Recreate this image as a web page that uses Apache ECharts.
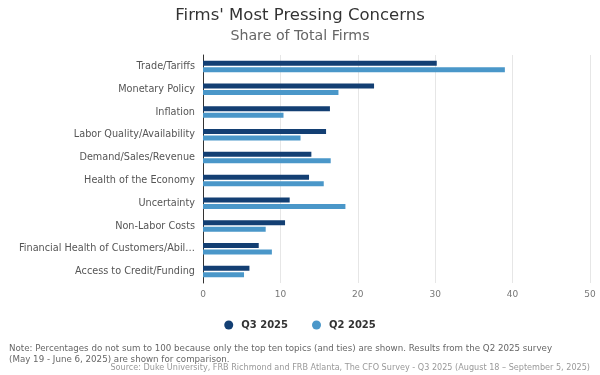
<!DOCTYPE html>
<html><head><meta charset="utf-8">
<script src="https://cdn.jsdelivr.net/npm/echarts@6/dist/echarts.min.js"></script>
<style>html,body{margin:0;padding:0;background:#fff}#c{width:600px;height:375px}</style>
</head><body><div id="c"></div>
<script>
var categories = ["Trade/Tariffs","Monetary Policy","Inflation","Labor Quality/Availability","Demand/Sales/Revenue","Health of the Economy","Uncertainty","Non-Labor Costs","Financial Health of Customers/Abil\u2026","Access to Credit/Funding"];
var q3Values = [30.2, 22.1, 16.4, 15.9, 14.0, 13.7, 11.2, 10.6, 7.2, 6.0];
var q2Values = [39.0, 17.5, 10.4, 12.6, 16.5, 15.6, 18.4, 8.1, 8.9, 5.3];
var xTicks = [0, 10, 20, 30, 40, 50];
var seriesNames = ["Q3 2025", "Q2 2025"];

var FONT = 'DejaVu Sans, Liberation Sans, Arial';
var chart = echarts.init(document.getElementById('c'), null, {renderer:'canvas'});
chart.setOption({
  animation:false,
  backgroundColor:'#fff',
  title:[
    {text:"Firms' Most Pressing Concerns", left:'center', top:2, textStyle:{fontFamily:FONT, fontSize:16.5, fontWeight:'normal', color:'#333'}},
    {text:"Share of Total Firms", left:'center', top:24, textStyle:{fontFamily:FONT, fontSize:14.2, fontWeight:'normal', color:'#666'}},
    {text:"Note: Percentages do not sum to 100 because only the top ten topics (and ties) are shown. Results from the Q2 2025 survey\n(May 19 - June 6, 2025) are shown for comparison.", left:4, top:338, textStyle:{fontFamily:FONT, fontSize:8.7, fontWeight:'normal', color:'#666', lineHeight:11}},
    {text:"Source: Duke University, FRB Richmond and FRB Atlanta, The CFO Survey - Q3 2025 (August 18 \u2013 September 5, 2025)", right:5, top:359, textStyle:{fontFamily:FONT, fontSize:8.1, fontWeight:'normal', color:'#999'}}
  ],
  legend:{
    data:seriesNames, top:315, left:'center', icon:'circle', itemWidth:9, itemHeight:9, itemGap:24,
    textStyle:{fontFamily:FONT, fontSize:10, fontWeight:'bold', color:'#333', padding:[0,0,0,3]}
  },
  grid:{left:203, right:10, top:55, height:228, containLabel:false},
  xAxis:{
    type:'value', min:xTicks[0], max:xTicks[xTicks.length-1], interval:10,
    axisLine:{show:false}, axisTick:{show:false},
    splitLine:{lineStyle:{color:'#e6e6e6'}},
    axisLabel:{color:'#777', fontSize:9, fontFamily:FONT, margin:7}
  },
  yAxis:{
    type:'category', data:categories, inverse:true,
    axisLine:{show:true, lineStyle:{color:'#333'}}, axisTick:{show:false},
    axisLabel:{color:'#555', fontSize:9.7, fontFamily:FONT, margin:8}
  },
  series:[
    {name:seriesNames[0], type:'bar', data:q3Values, barWidth:5, barGap:'30%', itemStyle:{color:'#133f73'}},
    {name:seriesNames[1], type:'bar', data:q2Values, barWidth:5, itemStyle:{color:'#4a97c9'}}
  ]
});
</script></body></html>
